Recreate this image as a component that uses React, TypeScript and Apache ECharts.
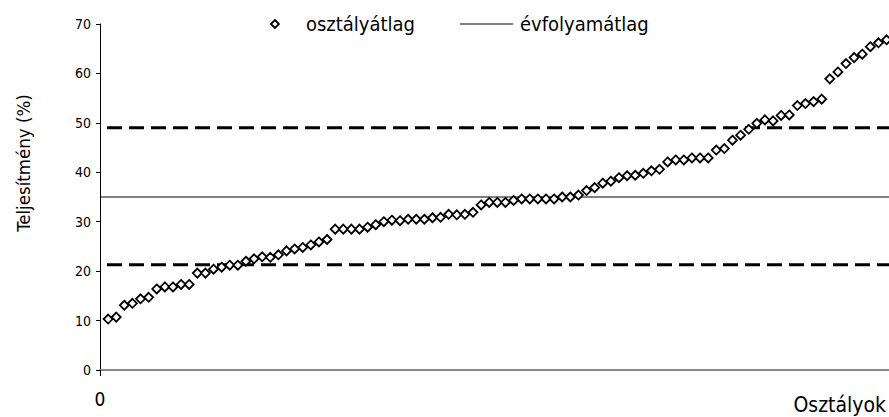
import React, { useEffect, useRef } from "react";
import * as echarts from "echarts";

// ---- data ----
const classAverages: number[] = [
  10.3, 10.7, 13.1, 13.5, 14.4, 14.7, 16.4, 16.8, 16.8, 17.3,
  17.3, 19.6, 19.6, 20.4, 20.8, 21.2, 21.2, 22.0, 22.5, 22.9,
  22.8, 23.3, 24.1, 24.5, 24.8, 25.3, 25.9, 26.4, 28.5, 28.5,
  28.5, 28.5, 28.9, 29.4, 30.0, 30.3, 30.2, 30.5, 30.5, 30.5,
  30.8, 30.9, 31.5, 31.4, 31.5, 31.9, 33.4, 33.9, 33.9, 33.9,
  34.3, 34.6, 34.6, 34.6, 34.6, 34.6, 35.0, 35.0, 35.4, 36.3,
  36.9, 37.8, 38.2, 38.9, 39.3, 39.4, 39.8, 40.3, 40.6, 42.1,
  42.5, 42.5, 42.9, 42.9, 42.9, 44.5, 44.8, 46.5, 47.5, 48.7,
  49.9, 50.6, 50.4, 51.5, 51.6, 53.5, 53.9, 54.3, 54.8, 58.9,
  60.3, 62.0, 63.2, 63.9, 65.4, 66.2, 66.8,
];
const gradeAverage = 35.0;
const upperBand = 49.0;
const lowerBand = 21.3;
const xMin = 0;
const xMax = 97.3;
const yTicks = [0, 10, 20, 30, 40, 50, 60, 70];
const seriesNames = ["osztályátlag", "évfolyamátlag"];
const yAxisTitle = "Teljesítmény (%)";
const xAxisTitle = "Osztályok";

const FONT = "'DejaVu Sans Condensed', 'DejaVu Sans', sans-serif";

export default function App() {
  const ref = useRef<HTMLDivElement>(null);

  useEffect(() => {
    if (!ref.current) return;
    const chart = echarts.init(ref.current, null, { renderer: "svg" });
    const scatterData = classAverages.map((v, i) => [i + 1, v]);
    const hline = (v: number) => [
      [xMin, v],
      [xMax, v],
    ];
    chart.setOption({
      animation: false,
      backgroundColor: "#fff",
      textStyle: { fontFamily: FONT },
      grid: { left: 100, right: 0, top: 24, bottom: 47, containLabel: false },
      legend: [
        {
          data: [{ name: seriesNames[0], icon: "diamond" }],
          left: 270,
          top: 14,
          padding: 0,
          itemWidth: 8,
          itemHeight: 8,
          itemStyle: { color: "#fff", borderColor: "#000", borderWidth: 1.8 },
          textStyle: {
            fontSize: 20,
            color: "#000",
            fontFamily: FONT,
            padding: [0, 0, 0, 22],
          },
        },
        {
          data: [{ name: seriesNames[1], icon: "rect" }],
          left: 460,
          top: 14,
          padding: 0,
          itemWidth: 53,
          itemHeight: 1,
          itemStyle: { color: "#000", borderWidth: 0 },
          textStyle: { fontSize: 20, color: "#000", fontFamily: FONT, padding: [0, 0, 0, 2] },
        },
      ],
      xAxis: {
        type: "value",
        min: xMin,
        max: xMax,
        interval: 200,
        splitLine: { show: false },
        axisLine: { show: true, lineStyle: { color: "#8a8a8a", width: 2 } },
        axisTick: { show: true, customValues: [0], length: 6, lineStyle: { color: "#000" } },
        axisLabel: {
          customValues: [0],
          formatter: (v: number) => (v === 0 ? "0" : ""),
          fontSize: 19,
          color: "#000",
          margin: 19,
          fontFamily: FONT,
        },
      },
      yAxis: {
        type: "value",
        min: yTicks[0],
        max: yTicks[yTicks.length - 1],
        interval: 10,
        splitLine: { show: false },
        axisLine: { show: true, lineStyle: { color: "#000", width: 1 } },
        axisTick: { show: true, length: 4, lineStyle: { color: "#000" } },
        axisLabel: { fontSize: 14, color: "#000", margin: 9, fontFamily: FONT },
      },
      graphic: [
        {
          type: "text",
          x: 23,
          y: 163,
          rotation: Math.PI / 2,
          style: {
            text: yAxisTitle,
            fontSize: 18.5,
            fontFamily: FONT,
            fill: "#000",
            align: "center",
            verticalAlign: "middle",
          },
        },
        {
          type: "text",
          x: 886,
          y: 405,
          style: {
            text: xAxisTitle,
            fontSize: 21,
            fontFamily: FONT,
            fill: "#000",
            align: "right",
            verticalAlign: "middle",
          },
        },
      ],
      series: [
        {
          name: "upper",
          type: "line",
          data: hline(upperBand),
          symbol: "none",
          silent: true,
          lineStyle: { color: "#000", width: 3, type: [15, 7], dashOffset: 15 },
          z: 1,
        },
        {
          name: "lower",
          type: "line",
          data: hline(lowerBand),
          symbol: "none",
          silent: true,
          lineStyle: { color: "#000", width: 3, type: [15, 7], dashOffset: 15 },
          z: 1,
        },
        {
          name: seriesNames[1],
          type: "line",
          data: hline(gradeAverage),
          symbol: "none",
          lineStyle: { color: "#000", width: 1 },
          itemStyle: { color: "#000" },
          z: 1,
        },
        {
          name: seriesNames[0],
          type: "scatter",
          data: scatterData,
          symbol: "diamond",
          symbolSize: 9,
          itemStyle: { color: "#fff", borderColor: "#000", borderWidth: 1.8, opacity: 1 },
          z: 3,
        },
      ],
    });
    return () => chart.dispose();
  }, []);

  return (
    <div
      ref={ref}
      style={{ position: "fixed", left: 0, top: 0, width: 889, height: 417, background: "#fff" }}
    />
  );
}
